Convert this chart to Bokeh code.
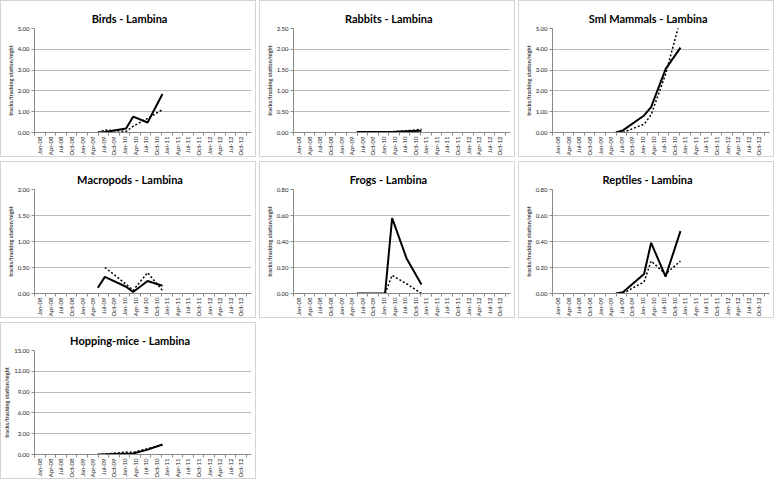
import math
import numpy as np
import pandas as pd
from bokeh.plotting import figure
from bokeh.layouts import column, row
from bokeh.models import FixedTicker, NumeralTickFormatter, Range1d, Title
from bokeh.embed import file_html
from bokeh.resources import INLINE

# ---------------- data ----------------
tick_labels = ["Jan-08", "Apr-08", "Jul-08", "Oct-08", "Jan-09", "Apr-09", "Jul-09", "Oct-09",
               "Jan-10", "Apr-10", "Jul-10", "Oct-10", "Jan-11", "Apr-11", "Jul-11", "Oct-11",
               "Jan-12", "Apr-12", "Jul-12", "Oct-12"]
survey_dates = ["2009-05-15", "2009-07-15", "2010-01-15", "2010-03-15", "2010-07-18", "2010-11-24"]

nan = float("nan")
birds_solid = [0.0, 0.02, 0.19, 0.76, 0.48, 1.85]
birds_dotted = [0.0, 0.12, 0.05, 0.30, 0.68, 1.10]
rabbits_solid = [0.01, 0.01, 0.01, 0.01, 0.03, 0.04]
rabbits_dotted = [0.0, 0.01, 0.0, 0.02, 0.04, 0.08]
sml_solid = [0.0, 0.10, 0.82, 1.22, 3.05, 4.08]
sml_dotted = [nan, 0.0, 0.40, 0.85, 2.80, 5.45]
macro_solid = [0.11, 0.32, 0.13, 0.03, 0.24, 0.15]
macro_dotted = [nan, 0.50, 0.18, 0.06, 0.40, 0.06]
frogs_solid = [0.0, 0.0, 0.0, 0.58, 0.27, 0.07]
frogs_dotted = [nan, nan, 0.0, 0.14, 0.075, 0.0]
rept_solid = [0.0, 0.01, 0.15, 0.39, 0.13, 0.48]
rept_dotted = [nan, 0.0, 0.09, 0.25, 0.15, 0.25]
hop_solid = [0.0, 0.02, 0.12, 0.15, 0.70, 1.45]
hop_dotted = [0.0, 0.05, 0.35, 0.30, 0.85, 1.35]

titles = ["Birds - Lambina", "Rabbits - Lambina", "Sml Mammals - Lambina",
          "Macropods - Lambina", "Frogs - Lambina", "Reptiles - Lambina",
          "Hopping-mice - Lambina"]
y_max = [5.0, 2.5, 5.0, 2.0, 0.8, 0.8, 15.0]
y_step = [1.0, 0.5, 1.0, 0.5, 0.2, 0.2, 3.0]
y_label = "tracks/tracking station/night"

# months since Jan-2008
d = pd.to_datetime(survey_dates)
months = list(((d.year - 2008) * 12 + (d.month - 1) + (d.day - 1) / d.days_in_month).astype(float))

# ---------------- layout constants ----------------
FONT = "Lato"
W, H = 256, 157          # outer size (the 1px border is drawn inside)
WI, HI = W - 2, H - 2    # inner canvas size
BL, BR, BT, BB = 33, 6, 27, 25
X0, X1 = -1.5, 60.0
TITLE_PX = 11

# approximate advance widths (em) of Lato Bold, used only to centre titles on the panel
_EM = {" ": 0.193, "-": 0.345, "A": 0.69, "B": 0.64, "F": 0.55, "H": 0.75, "L": 0.5, "M": 0.9,
       "P": 0.61, "R": 0.63, "S": 0.53, "a": 0.5, "b": 0.56, "c": 0.46, "d": 0.56, "e": 0.53,
       "g": 0.51, "h": 0.56, "i": 0.25, "l": 0.25, "m": 0.84, "n": 0.56, "o": 0.56, "p": 0.56,
       "r": 0.38, "s": 0.42, "t": 0.37, "y": 0.52}


def text_w(s, px):
    return sum(_EM.get(c, 0.55) for c in s) * px


def make_panel(title, solid, dotted, ymax, step):
    p = figure(width=W, height=H, output_backend="svg", toolbar_location=None, title=None,
               x_range=Range1d(X0, X1), y_range=Range1d(0, ymax),
               min_border_left=BL, min_border_right=BR, min_border_top=BT, min_border_bottom=BB)
    p.styles = {"border": "1px solid #d4d4d4"}
    p.background_fill_color = "white"
    p.border_fill_color = "white"
    p.outline_line_color = None
    p.xgrid.grid_line_color = None
    p.ygrid.grid_line_color = "#b9b9b9"
    p.ygrid.grid_line_width = 1

    xt = [3 * i for i in range(len(tick_labels))]
    p.xaxis.ticker = FixedTicker(ticks=xt, minor_ticks=[-1.5 + 3 * k for k in range(21)])
    p.xaxis.major_label_overrides = {t: lab for t, lab in zip(xt, tick_labels)}
    p.xaxis.major_label_orientation = math.pi / 2
    p.xaxis.major_tick_line_color = None
    p.xaxis.major_tick_out = 0
    p.xaxis.major_tick_in = 0
    p.xaxis.minor_tick_line_color = "#8a8a8a"
    p.xaxis.minor_tick_out = 3
    p.xaxis.minor_tick_in = 0
    p.xaxis.major_label_standoff = 1
    p.xaxis.axis_line_color = "#8a8a8a"
    p.xaxis.major_label_text_font = FONT
    p.xaxis.major_label_text_font_size = "6px"
    p.xaxis.major_label_text_color = "#1a1a1a"

    n = int(round(ymax / step))
    p.yaxis.ticker = FixedTicker(ticks=[round(step * i, 4) for i in range(n + 1)], minor_ticks=[])
    p.yaxis.formatter = NumeralTickFormatter(format="0.00")
    p.yaxis.axis_line_color = "#8a8a8a"
    p.yaxis.major_tick_line_color = "#8a8a8a"
    p.yaxis.major_tick_out = 3
    p.yaxis.major_tick_in = 0
    p.yaxis.minor_tick_line_color = None
    p.yaxis.major_label_standoff = 2
    p.yaxis.major_label_text_font = FONT
    p.yaxis.major_label_text_font_size = "6px"
    p.yaxis.major_label_text_color = "#1a1a1a"
    p.yaxis.axis_label = y_label
    p.yaxis.axis_label_text_font = FONT
    p.yaxis.axis_label_text_font_size = "5.5px"
    p.yaxis.axis_label_text_font_style = "bold"
    p.yaxis.axis_label_standoff = 1

    p.line(months, np.array(dotted, dtype=float), line_color="black", line_width=1.5, line_dash="2 2")
    p.line(months, np.array(solid, dtype=float), line_color="black", line_width=2)

    # title centred on the whole panel (the original centres it on the chart area)
    off = WI / 2 - text_w(title, TITLE_PX) / 2 - BL
    p.add_layout(Title(text=title, align="left", offset=off, vertical_align="middle",
                       text_font=FONT, text_font_size=f"{TITLE_PX}px", text_font_style="bold",
                       text_color="black", standoff=6), "above")
    return p


series = [(birds_solid, birds_dotted), (rabbits_solid, rabbits_dotted), (sml_solid, sml_dotted),
          (macro_solid, macro_dotted), (frogs_solid, frogs_dotted), (rept_solid, rept_dotted),
          (hop_solid, hop_dotted)]
panels = [make_panel(t, s, dt, ym, st) for t, (s, dt), ym, st in zip(titles, series, y_max, y_step)]

layout = column(row(panels[0], panels[1], panels[2], spacing=3),
                row(panels[3], panels[4], panels[5], spacing=3),
                row(panels[6]), spacing=4)

open("out.html", "w").write(file_html(layout, INLINE))
